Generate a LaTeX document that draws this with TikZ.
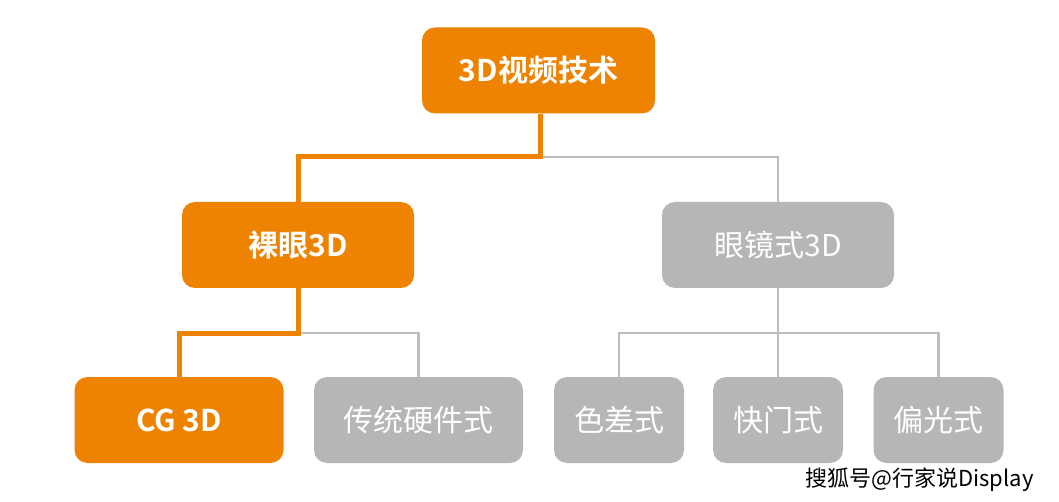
\documentclass[tikz,border=0pt]{standalone}
\usepackage{fontspec}
\newfontfamily\cjk{Noto Sans CJK SC}
\newfontfamily\cjkb{Noto Sans CJK SC Bold}
\newfontfamily\wm{Noto Sans CJK SC}
\definecolor{orng}{RGB}{238,131,2}
\definecolor{gbox}{RGB}{182,182,182}
\definecolor{gline}{RGB}{190,190,190}
\begin{document}
\begin{tikzpicture}[x=1pt,y=-1pt,
  box/.style={rounded corners=13pt, minimum width=232pt, minimum height=86pt, inner sep=0pt, text=white, font=\cjkb\fontsize{30}{33}\selectfont},
  obox/.style={box, fill=orng},
  gbx/.style={box, fill=gbox, font=\cjk\fontsize{30}{33}\selectfont},
  sbox/.style={minimum width=209pt},
  tbox/.style={minimum width=130pt},
  oline/.style={draw=orng, line width=5pt},
  gl/.style={draw=gline, line width=2.2pt}]
\useasboundingbox (0,0) rectangle (1059,502);
\fill[white] (0,0) rectangle (1059,502);
\coordinate (j1) at (540,157);
\coordinate (j2) at (298,333);
\coordinate (j3) at (778,333);
\node[obox, minimum width=233pt] (root) at (538.5,70.5) {3D视频技术};
\node[obox] (ly) at (298,245) {裸眼3D};
\node[gbx] (yj) at (778,245) {眼镜式3D};
\node[obox, sbox] (cg) at (179,420) {CG 3D};
\node[gbx, sbox] (ct) at (418.5,420) {传统硬件式};
\node[gbx, tbox] (sc) at (619,420) {色差式};
\node[gbx, tbox] (km) at (778,420) {快门式};
\node[gbx, tbox] (pg) at (938.5,420) {偏光式};
\draw[gl] (j1) -| (yj.north);
\draw[gl] (j2) -| (ct.north);
\draw[gl] (yj.south) -- (j3);
\draw[gl] (sc.north) |- (j3) -| (pg.north);
\draw[gl] (j3) -- (km.north);
\draw[oline] (root.south -| j1) -- (j1) -| (ly.north);
\draw[oline] (ly.south) -- (j2) -| (cg.north);
\node[anchor=east, font=\wm\fontsize{22}{24}\selectfont, text=black] (wmk) at (1037,480) {搜狐号@行家说Display};
\end{tikzpicture}
\end{document}
